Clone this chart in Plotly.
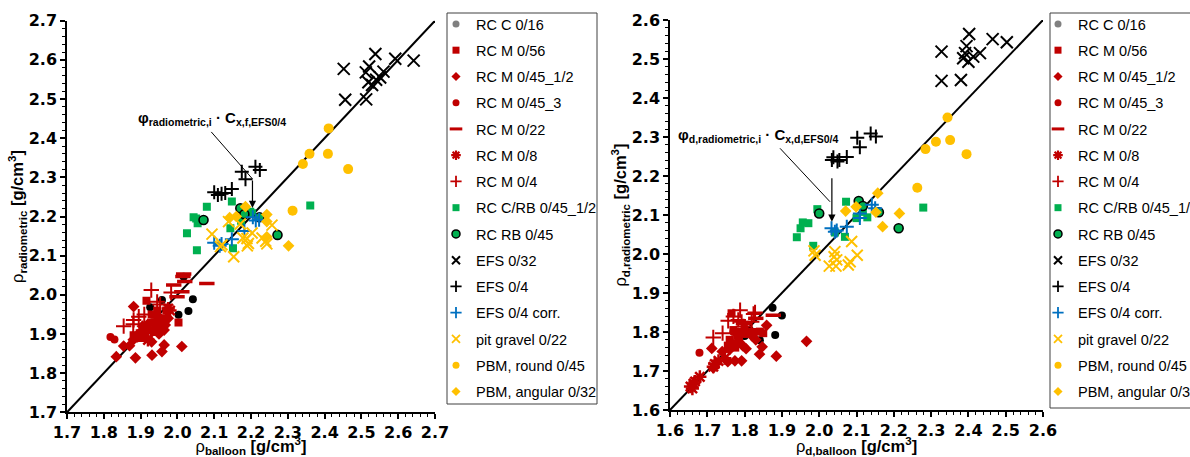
import plotly.graph_objects as go

# ---------------- data: left panel (rho_balloon vs rho_radiometric) ----------------
L_rcc016 = [(2.042, 1.989), (2.030, 1.959), (2.003, 1.949), (2.017, 2.046), (1.926, 1.968), (1.958, 1.987), (1.908, 1.910)]
L_rcm056 = [(1.916, 1.985), (2.003, 1.929), (1.881, 1.897), (1.93, 1.95), (1.94, 1.93), (1.96, 1.94), (1.92, 1.91),
            (1.95, 1.92), (1.90, 1.89), (1.97, 1.96), (1.935, 1.905), (1.945, 1.96)]
L_rcm045_12 = [(1.881, 1.970), (2.012, 1.868), (1.964, 1.872), (1.958, 1.855), (1.931, 1.846), (1.886, 1.839),
               (1.834, 1.842), (1.854, 1.869), (1.964, 1.910), (1.967, 1.923), (1.911, 1.893), (1.87, 1.87),
               (1.90, 1.905), (1.93, 1.88), (1.95, 1.90), (1.92, 1.925), (1.88, 1.885), (1.945, 1.945),
               (1.975, 1.94), (1.905, 1.92)]
L_rcm045_3 = [(1.818, 1.892), (1.829, 1.886), (1.90, 1.90), (1.93, 1.93)]
L_rcm022 = [(2.017, 2.053), (2.015, 2.047), (1.990, 2.025), (2.020, 2.034), (2.080, 2.029), (2.012, 2.008), (1.999, 1.995)]
L_rcm08 = [(1.89, 1.895), (1.92, 1.885), (1.955, 1.935), (1.975, 1.965), (1.98, 1.96), (1.91, 1.905), (1.94, 1.915)]
L_rcm04 = [(1.929, 2.012), (1.854, 1.920), (1.881, 1.936), (1.895, 1.944), (1.945, 1.982), (1.983, 2.006),
           (1.953, 1.975), (1.91, 1.95), (1.88, 1.925)]
L_rccrb = [(2.080, 2.225), (2.148, 2.238), (2.044, 2.198), (2.055, 2.183), (2.026, 2.157), (2.053, 2.114),
           (2.144, 2.170), (2.151, 2.119), (2.173, 2.189), (2.203, 2.208), (2.361, 2.228), (2.051, 2.195), (2.198, 2.212)]
L_rcrb045 = [(2.071, 2.191), (2.171, 2.221), (2.182, 2.206), (2.223, 2.198), (2.272, 2.153)]
L_efs032 = [(2.452, 2.577), (2.456, 2.498), (2.513, 2.499), (2.538, 2.615), (2.521, 2.583), (2.512, 2.568),
            (2.529, 2.536), (2.551, 2.555), (2.560, 2.570), (2.592, 2.603), (2.642, 2.598), (2.540, 2.549), (2.519, 2.543)]
L_efs04 = [(2.100, 2.262), (2.110, 2.255), (2.120, 2.258), (2.130, 2.260), (2.148, 2.270), (2.175, 2.314),
           (2.185, 2.295), (2.212, 2.327), (2.224, 2.319)]
L_efs04c = [(2.100, 2.133), (2.115, 2.125), (2.120, 2.130), (2.148, 2.142), (2.182, 2.163), (2.205, 2.198),
            (2.213, 2.190), (2.222, 2.192)]
L_pit = [(2.094, 2.155), (2.117, 2.123), (2.121, 2.128), (2.139, 2.187), (2.153, 2.097), (2.171, 2.181),
         (2.178, 2.145), (2.189, 2.144), (2.193, 2.131), (2.203, 2.158), (2.230, 2.145), (2.240, 2.137),
         (2.243, 2.130), (2.257, 2.178), (2.190, 2.125)]
L_pbmr = [(2.411, 2.425), (2.359, 2.360), (2.341, 2.334), (2.409, 2.360), (2.464, 2.321), (2.313, 2.215)]
L_pbma = [(2.185, 2.225), (2.142, 2.197), (2.243, 2.205), (2.243, 2.187), (2.243, 2.148), (2.302, 2.125), (2.16, 2.20)]

# ---------------- data: right panel (rho_d,balloon vs rho_d,radiometric) ----------------
R_rcc016 = [(1.875, 1.862), (1.900, 1.842), (1.882, 1.792), (1.841, 1.779), (1.814, 1.805), (1.80, 1.79)]
R_rcm056 = [(1.765, 1.848), (1.770, 1.805), (1.765, 1.771), (1.841, 1.801), (1.850, 1.797), (1.78, 1.79),
            (1.79, 1.80), (1.76, 1.78), (1.80, 1.795), (1.775, 1.76), (1.82, 1.80), (1.755, 1.765), (1.785, 1.775)]
R_rcm045_12 = [(1.712, 1.758), (1.966, 1.776), (1.885, 1.738), (1.840, 1.743), (1.847, 1.762), (1.859, 1.817),
               (1.804, 1.757), (1.792, 1.726), (1.774, 1.726), (1.755, 1.724), (1.716, 1.708), (1.74, 1.75),
               (1.76, 1.755), (1.82, 1.79), (1.83, 1.78), (1.795, 1.765)]
R_rcm045_3 = [(1.679, 1.747), (1.77, 1.80), (1.80, 1.81)]
R_rcm022 = [(1.877, 1.843), (1.830, 1.835), (1.797, 1.822), (1.81, 1.80)]
R_rcm08 = [(1.655, 1.660), (1.663, 1.668), (1.667, 1.673), (1.680, 1.685), (1.716, 1.711), (1.730, 1.726),
           (1.747, 1.733), (1.720, 1.718), (1.660, 1.655)]
R_rcm04 = [(1.716, 1.786), (1.741, 1.797), (1.756, 1.829), (1.788, 1.856), (1.783, 1.831), (1.824, 1.846),
           (1.828, 1.850), (1.797, 1.814), (1.792, 1.826), (1.819, 1.826), (1.77, 1.84)]
R_rccrb = [(1.995, 2.115), (2.072, 2.134), (1.956, 2.081), (1.971, 2.079), (1.950, 2.066), (1.940, 2.043),
           (1.984, 2.021), (2.069, 2.044), (2.129, 2.094), (2.117, 2.108), (2.279, 2.119), (2.042, 2.055), (2.100, 2.092)]
R_rcrb045 = [(2.000, 2.104), (2.106, 2.136), (2.117, 2.123), (2.160, 2.107), (2.213, 2.066)]
R_efs032 = [(2.328, 2.519), (2.328, 2.444), (2.380, 2.446), (2.402, 2.564), (2.395, 2.533), (2.391, 2.515),
            (2.386, 2.502), (2.400, 2.493), (2.413, 2.506), (2.431, 2.515), (2.465, 2.551), (2.503, 2.543)]
R_efs04 = [(2.034, 2.241), (2.038, 2.248), (2.049, 2.237), (2.054, 2.241), (2.074, 2.249), (2.102, 2.298),
           (2.109, 2.274), (2.138, 2.309), (2.152, 2.301)]
R_efs04c = [(2.033, 2.066), (2.042, 2.057), (2.047, 2.060), (2.074, 2.070), (2.109, 2.092), (2.109, 2.104),
            (2.141, 2.126), (2.150, 2.117)]
R_pit = [(1.986, 2.008), (1.989, 1.997), (2.042, 2.006), (2.047, 1.985), (2.027, 1.969), (2.045, 1.969),
         (2.078, 1.972), (2.087, 2.032), (2.102, 1.997), (2.083, 1.980), (2.040, 1.993)]
R_pbmr = [(2.344, 2.350), (2.285, 2.269), (2.313, 2.288), (2.351, 2.292), (2.395, 2.256), (2.263, 2.170)]
R_pbma = [(2.157, 2.156), (2.071, 2.110), (2.099, 2.121), (2.152, 2.107), (2.215, 2.104), (2.170, 2.070)]

series_names = ["RC C 0/16", "RC M 0/56", "RC M 0/45_1/2", "RC M 0/45_3", "RC M 0/22", "RC M 0/8", "RC M 0/4",
                "RC C/RB 0/45_1/2", "RC RB 0/45", "EFS 0/32", "EFS 0/4", "EFS 0/4 corr.", "pit gravel 0/22",
                "PBM, round 0/45", "PBM, angular 0/32"]
left_data = [L_rcc016, L_rcm056, L_rcm045_12, L_rcm045_3, L_rcm022, L_rcm08, L_rcm04, L_rccrb, L_rcrb045,
             L_efs032, L_efs04, L_efs04c, L_pit, L_pbmr, L_pbma]
right_data = [R_rcc016, R_rcm056, R_rcm045_12, R_rcm045_3, R_rcm022, R_rcm08, R_rcm04, R_rccrb, R_rcrb045,
              R_efs032, R_efs04, R_efs04c, R_pit, R_pbmr, R_pbma]
left_range = [1.7, 2.7]
right_range = [1.6, 2.6]

RED, GREEN, YEL, BLUE = "#C00000", "#00B050", "#FFC000", "#0070C0"
styles = [
    dict(symbol="circle", size=8, color="black", line=dict(width=0)),
    dict(symbol="square", size=8, color=RED, line=dict(width=0)),
    dict(symbol="diamond", size=9, color=RED, line=dict(width=0)),
    dict(symbol="circle", size=8, color=RED, line=dict(width=0)),
    dict(symbol="line-ew", size=11, color=RED, line=dict(width=3.5, color=RED)),
    dict(symbol="asterisk", size=11, color=RED, line=dict(width=2.5, color=RED)),
    dict(symbol="cross-thin", size=11, color=RED, line=dict(width=2, color=RED)),
    dict(symbol="square", size=8, color=GREEN, line=dict(width=0)),
    dict(symbol="circle", size=9, color=GREEN, line=dict(width=1.6, color="black")),
    dict(symbol="x-thin", size=12, color="black", line=dict(width=2, color="black")),
    dict(symbol="cross-thin", size=10, color="black", line=dict(width=2, color="black")),
    dict(symbol="cross-thin", size=10, color=BLUE, line=dict(width=2, color=BLUE)),
    dict(symbol="x-thin", size=11, color=YEL, line=dict(width=2, color=YEL)),
    dict(symbol="circle", size=10, color=YEL, line=dict(width=0)),
    dict(symbol="diamond", size=9, color=YEL, line=dict(width=0)),
]
# smaller symbols for the legend entries
legend_styles = [
    dict(symbol="circle", size=7, color="#808080", line=dict(width=0)),
    dict(symbol="square", size=7, color=RED, line=dict(width=0)),
    dict(symbol="diamond", size=7, color=RED, line=dict(width=0)),
    dict(symbol="circle", size=7, color=RED, line=dict(width=0)),
    dict(symbol="line-ew", size=9, color=RED, line=dict(width=3, color=RED)),
    dict(symbol="asterisk", size=8, color=RED, line=dict(width=2.2, color=RED)),
    dict(symbol="cross-thin", size=8, color=RED, line=dict(width=1.8, color=RED)),
    dict(symbol="square", size=7, color=GREEN, line=dict(width=0)),
    dict(symbol="circle", size=8, color=GREEN, line=dict(width=1.5, color="black")),
    dict(symbol="x-thin", size=8, color="black", line=dict(width=2, color="black")),
    dict(symbol="cross-thin", size=8, color="black", line=dict(width=1.8, color="black")),
    dict(symbol="cross-thin", size=8, color=BLUE, line=dict(width=1.8, color=BLUE)),
    dict(symbol="x-thin", size=8, color=YEL, line=dict(width=1.8, color=YEL)),
    dict(symbol="circle", size=7, color=YEL, line=dict(width=0)),
    dict(symbol="diamond", size=7, color=YEL, line=dict(width=0)),
]

fig = go.Figure()
W, H = 1190, 457

panels = [
    dict(xa="x", ya="y", data=left_data, rng=left_range, legend="legend"),
    dict(xa="x2", ya="y2", data=right_data, rng=right_range, legend="legend2"),
]

for p in panels:
    fig.add_trace(go.Scatter(x=p["rng"], y=p["rng"], mode="lines", line=dict(color="black", width=2),
                             xaxis=p["xa"], yaxis=p["ya"], showlegend=False, hoverinfo="skip"))

for p in panels:
    for i, (name, pts, st, lst) in enumerate(zip(series_names, p["data"], styles, legend_styles)):
        xs = [a for a, b in pts]
        ys = [b for a, b in pts]
        grp = p["legend"] + "_" + str(i)
        fig.add_trace(go.Scatter(x=xs, y=ys, mode="markers", marker=st, xaxis=p["xa"], yaxis=p["ya"],
                                 showlegend=False, legendgroup=grp, legend=p["legend"], name=name))
        fig.add_trace(go.Scatter(x=[None], y=[None], mode="markers", marker=lst,
                                 xaxis=p["xa"], yaxis=p["ya"], legendgroup=grp,
                                 legend=p["legend"], name=name))

FONT = "Liberation Sans, Arial"
tickfont = dict(family="DejaVu Sans", size=16, color="black", weight="bold")
titlefont = dict(family=FONT, size=16.5, color="black")


def axis(rng, domain, anchor, title, standoff):
    return dict(range=rng, domain=domain, anchor=anchor, dtick=0.1, tick0=rng[0], tickformat=".1f",
                showline=True, linecolor="black", linewidth=1.5, ticks="outside", ticklen=5, tickwidth=1.5,
                tickcolor="black", minor=dict(ticks="outside", ticklen=3, dtick=0.02, tickcolor="black", tickwidth=1),
                showgrid=False, zeroline=False, tickfont=tickfont,
                title=dict(text=title, font=titlefont, standoff=standoff))


fig.update_layout(
    width=W, height=H,
    margin=dict(l=0, r=0, t=0, b=0, autoexpand=False),
    paper_bgcolor="white", plot_bgcolor="white",
    xaxis=axis(left_range, [67 / W, 435 / W], "y", "ρ<sub><b>balloon</b></sub> <b>[g/cm<sup>3</sup>]</b>", 7),
    yaxis=axis(left_range, [1 - 412.3 / H, 1 - 20.7 / H], "x", "ρ<sub><b>radiometric</b></sub> <b>[g/cm<sup>3</sup>]</b>", 0),
    xaxis2=axis(right_range, [670 / W, 1043 / W], "y2", "ρ<sub><b>d,balloon</b></sub> <b>[g/cm<sup>3</sup>]</b>", 7),
    yaxis2=axis(right_range, [1 - 410 / H, 1 - 20 / H], "x2", "ρ<sub><b>d,radiometric</b></sub> <b>[g/cm<sup>3</sup>]</b>", 0),
    legend=dict(x=436 / W, y=1 - 8 / H, xanchor="left", yanchor="top", borderwidth=0,
                font=dict(family=FONT, size=14.5, color="black"), traceorder="grouped",
                tracegroupgap=4.4, bgcolor="rgba(0,0,0,0)"),
    legend2=dict(x=1038 / W, y=1 - 8 / H, xanchor="left", yanchor="top", borderwidth=0,
                 font=dict(family=FONT, size=14.5, color="black"), traceorder="grouped",
                 tracegroupgap=4.4, bgcolor="rgba(0,0,0,0)"),
)

# legend frames
fig.add_shape(type="rect", xref="paper", yref="paper", x0=447 / W, x1=597 / W, y0=1 - 404 / H, y1=1 - 13 / H,
              line=dict(color="#404040", width=1), layer="below")
fig.add_shape(type="rect", xref="paper", yref="paper", x0=1050 / W, x1=1.02, y0=1 - 408 / H, y1=1 - 13 / H,
              line=dict(color="#404040", width=1), layer="below")

annfont = dict(family=FONT, size=15, color="black")
fig.add_annotation(x=2.095, y=2.451, xref="x", yref="y", showarrow=False, font=annfont,
                   text="<b>φ<sub>radiometric,i</sub> · C<sub>x,f,EFS0/4</sub></b>")
fig.add_shape(type="line", xref="x", yref="y", x0=2.092, y0=2.416, x1=2.204, y1=2.296,
              line=dict(color="black", width=1))
fig.add_annotation(x=2.204, y=2.222, ax=2.204, ay=2.296, xref="x", yref="y", axref="x", ayref="y",
                   showarrow=True, arrowhead=2, arrowsize=1.2, arrowwidth=1.2, arrowcolor="black", text="")

fig.add_annotation(x=1.837, y=2.305, xref="x2", yref="y2", showarrow=False, font=annfont,
                   text="<b>φ<sub>d,radiometric,i</sub> · C<sub>x,d,EFS0/4</sub></b>")
fig.add_shape(type="line", xref="x2", yref="y2", x0=1.895, y0=2.271, x1=2.029, y1=2.134,
              line=dict(color="black", width=1))
fig.add_annotation(x=2.034, y=2.083, ax=2.034, ay=2.198, xref="x2", yref="y2", axref="x2", ayref="y2",
                   showarrow=True, arrowhead=2, arrowsize=1.2, arrowwidth=1.2, arrowcolor="black", text="")

fig.write_html("out.html", config={"displayModeBar": False},
               post_script="document.body.style.margin='0';")
